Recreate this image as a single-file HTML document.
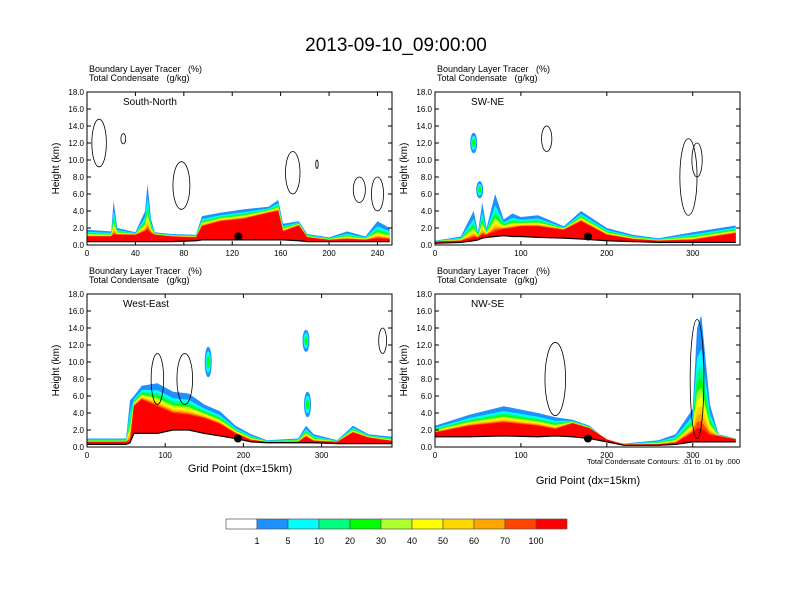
<!DOCTYPE html>
<html><head><meta charset="utf-8"><style>
body{margin:0;background:#fff;}
svg{display:block;font-family:"Liberation Sans",sans-serif;}
</style></head><body>
<svg id="c" width="792" height="612" viewBox="0 0 792 612">
<text x="396" y="51" font-size="19" text-anchor="middle">2013-09-10_09:00:00</text>
</svg>
<script>
const bandColors=["#1e90ff","#00ffff","#00ff7f","#00ff00","#adff2f","#ffff00","#ffd700","#ffa500","#ff4500","#ff0000"];
const bandLabels=["1","5","10","20","30","40","50","60","70","100"];
const tlX=[0,20,22,25,40,48,50,53,56,70,90,95,110,130,150,158,162,175,182,200,215,230,240,250];
const tlOuter=[1.8,1.6,5.2,2,1.5,4,7.2,3,1.5,1.3,1.2,3.4,3.8,4.2,4.5,5.3,2.5,2.8,1.3,0.9,1.6,1.0,2.8,2.0];
const tlRed=[1.0,1.0,1.2,1.2,1.2,1.6,1.8,1.4,1.2,1.0,0.9,2.2,2.8,3.1,3.8,4.0,1.6,2.3,0.9,0.6,0.7,0.6,0.8,0.7];
const tlGround=[0.4,0.4,0.4,0.4,0.4,0.4,0.4,0.4,0.4,0.4,0.5,0.6,0.6,0.6,0.6,0.6,0.6,0.5,0.4,0.4,0.4,0.4,0.4,0.4];
const trX=[0,30,45,50,55,60,70,80,90,100,120,150,170,200,230,260,300,350];
const trOuter=[0.5,1.0,4,1.5,5,2,6,3,3.7,3.3,3.5,2.2,4,2.0,1.2,0.8,1.5,2.3];
const trRed=[0.4,0.5,0.9,0.9,1.2,1.2,1.6,1.9,2.0,2.2,2.2,1.8,2.8,1.2,0.7,0.5,0.6,1.4];
const trGround=[0.2,0.3,0.5,0.6,0.8,0.9,1.0,1.1,1.0,1.0,0.9,0.8,0.7,0.5,0.4,0.3,0.3,0.3];
const blX=[0,50,55,60,70,90,110,130,150,170,190,210,230,270,280,290,320,340,360,390];
const blOuter=[1.0,1.0,5.5,6.0,7.2,7.5,6.5,6.3,5.0,4.2,2.5,1.5,0.8,1.0,2.5,1.5,0.8,2.5,1.5,1.2];
const blRed=[0.6,0.6,0.7,4.8,5.6,4.8,4.0,3.8,3.4,2.7,1.6,0.8,0.6,0.6,1.2,0.7,0.6,1.7,1.1,0.7];
const blGround=[0.3,0.3,0.5,1.6,1.6,1.6,2.0,2.0,1.6,1.3,1.0,0.6,0.5,0.5,0.5,0.5,0.4,0.4,0.4,0.4];
const brX=[0,40,80,120,140,160,180,200,220,260,280,300,305,310,320,330,350];
const brOuter=[2.5,3.8,4.8,4.0,3.5,3.2,2.5,0.8,0.4,0.8,1.5,4.5,14,15.5,5,1.5,1.0];
const brRed=[1.7,2.5,2.9,2.5,2.1,2.8,2.2,0.9,0.3,0.3,0.5,1.7,2.2,2.2,1.4,1.3,0.9];
const brGround=[1.2,1.2,1.3,1.2,1.3,1.2,1.0,0.6,0.2,0.2,0.3,0.6,0.6,0.6,0.6,0.6,0.6];
// isolated cloud-top tracer blobs: grid x, height, half-height (km)
const trBlobX=[45,52];const trBlobH=[12,6.5];const trBlobS=[1.2,1.0];
const blBlobX=[155,280,282];const blBlobH=[10,12.5,5];const blBlobS=[1.8,1.3,1.5];
// condensate contours: grid x, height, half-width (grid), half-height (km)
const tlCX=[10,30,78,170,225,240,190];const tlCH=[12,12.5,7,8.5,6.5,6,9.5];const tlCW=[6,2,7,6,5,5,1];const tlCS=[2.8,0.6,2.8,2.5,1.5,2,0.5];
const trCX=[130,295,305];const trCH=[12.5,8,10];const trCW=[6,10,6];const trCS=[1.5,4.5,2];
const blCX=[90,125,378];const blCH=[8,8,12.5];const blCW=[8,10,5];const blCS=[3,3,1.5];
const brCX=[140,305];const brCH=[8,8];const brCW=[12,8];const brCS=[4.3,7];
const panels=[
 {name:"south-north",label:"South-North",x0:87,y0:92,xMax:252,ticks:[0,40,80,120,160,200,240],X:tlX,O:tlOuter,R:tlRed,G:tlGround,dot:125,bx:[],bh:[],bs:[],cx:tlCX,ch:tlCH,cw:tlCW,cs:tlCS},
 {name:"sw-ne",label:"SW-NE",x0:435,y0:92,xMax:355,ticks:[0,100,200,300],X:trX,O:trOuter,R:trRed,G:trGround,dot:178,bx:trBlobX,bh:trBlobH,bs:trBlobS,cx:trCX,ch:trCH,cw:trCW,cs:trCS},
 {name:"west-east",label:"West-East",x0:87,y0:294,xMax:390,ticks:[0,100,200,300],X:blX,O:blOuter,R:blRed,G:blGround,dot:193,bx:blBlobX,bh:blBlobH,bs:blBlobS,cx:blCX,ch:blCH,cw:blCW,cs:blCS},
 {name:"nw-se",label:"NW-SE",x0:435,y0:294,xMax:355,ticks:[0,100,200,300],X:brX,O:brOuter,R:brRed,G:brGround,dot:178,bx:[],bh:[],bs:[],cx:brCX,ch:brCH,cw:brCW,cs:brCS}
];
const NS="http://www.w3.org/2000/svg";
const svg=document.getElementById("c");
function mk(t,a,p){const e=document.createElementNS(NS,t);for(const k in a)e.setAttribute(k,a[k]);(p||svg).appendChild(e);return e;}
const W=305,H=153;
panels.forEach(p=>{
 const g=mk("g",{});
 
 
 const sx=v=>p.x0+v/p.xMax*W, sy=v=>p.y0+H-v/18*H;
 const clip=mk("clipPath",{id:"cl"+p.name},g);mk("rect",{x:p.x0,y:p.y0,width:W,height:H},clip);
 const fg=mk("g",{"clip-path":"url(#cl"+p.name+")"},g);
 for(let k=0;k<10;k++){
  let pts=[];
  p.X.forEach((x,i)=>{const top=p.O[i]+(p.R[i]-p.O[i])*Math.pow(k/9,0.55);pts.push(sx(x)+","+sy(Math.max(top,p.G[i])));});
  for(let i=p.X.length-1;i>=0;i--)pts.push(sx(p.X[i])+","+sy(p.G[i]));
  const poly=mk("polygon",{points:pts.join(" "),fill:bandColors[k]},fg);
  
  
 }
 p.bx.forEach((bx,i)=>{
  [0,1,3].forEach((k,j)=>{
   const e=mk("ellipse",{cx:sx(bx),cy:sy(p.bh[i]),rx:3.5-j,ry:p.bs[i]/18*H*(1-j*0.3),fill:bandColors[k]},fg);
   
   
  });
 });
 p.cx.forEach((cx,i)=>{
  const e=mk("ellipse",{cx:sx(cx),cy:sy(p.ch[i]),rx:p.cw[i]/p.xMax*W,ry:p.cs[i]/18*H,fill:"none",stroke:"#000","stroke-width":0.8},fg);
  
  
 });
 const gp=p.X.map((x,i)=>sx(x)+","+sy(p.G[i])).join(" ");
 const gl=mk("polyline",{points:gp,fill:"none",stroke:"#000","stroke-width":1.2},fg);
 
 
 const d=mk("circle",{cx:sx(p.dot),cy:sy(1.0),r:4,fill:"#000"},g);
 
 
 mk("rect",{x:p.x0,y:p.y0,width:W,height:H,fill:"none",stroke:"#000","stroke-width":1},g);
 for(let h=0;h<=18;h+=2){
  const y=sy(h);
  mk("line",{x1:p.x0,x2:p.x0+4,y1:y,y2:y,stroke:"#000"},g);
  mk("line",{x1:p.x0+W,x2:p.x0+W-4,y1:y,y2:y,stroke:"#000"},g);
  const t=mk("text",{x:p.x0-3,y:y+3,"font-size":8,"text-anchor":"end"},g);t.textContent=h.toFixed(1);
  
  
 }
 p.ticks.forEach(v=>{
  const x=sx(v);
  mk("line",{x1:x,x2:x,y1:p.y0+H,y2:p.y0+H-4,stroke:"#000"},g);
  mk("line",{x1:x,x2:x,y1:p.y0,y2:p.y0+4,stroke:"#000"},g);
  const t=mk("text",{x:x,y:p.y0+H+11,"font-size":8,"text-anchor":"middle"},g);t.textContent=v;
  
  
 });
 const yl=mk("text",{x:p.x0-28,y:p.y0+H/2,"font-size":10,"text-anchor":"middle",transform:`rotate(-90 ${p.x0-28} ${p.y0+H/2})`},g);yl.textContent="Height (km)";
 
 
 const t1=mk("text",{x:p.x0+2,y:p.y0-20,"font-size":9},g);t1.textContent="Boundary Layer Tracer\u00a0\u00a0\u00a0(%)";
 
 
 const t2=mk("text",{x:p.x0+2,y:p.y0-11,"font-size":9},g);t2.textContent="Total Condensate\u00a0\u00a0\u00a0(g/kg)";
 
 
 const lb=mk("text",{x:p.x0+36,y:p.y0+13,"font-size":10},g);lb.textContent=p.label;
 
 
});
const xa1=mk("text",{x:240,y:472,"font-size":11,"text-anchor":"middle"});xa1.textContent="Grid Point (dx=15km)";


const xa2=mk("text",{x:588,y:484,"font-size":11,"text-anchor":"middle"});xa2.textContent="Grid Point (dx=15km)";


const cn=mk("text",{x:740,y:464,"font-size":7.5,"text-anchor":"end"});cn.textContent="Total Condensate Contours: .01 to .01 by .000";


const cb=["#ffffff"].concat(bandColors);
cb.forEach((c,i)=>{
 const r=mk("rect",{x:226+i*31,y:519,width:31,height:10,fill:c,stroke:"#555","stroke-width":0.7});
 
 
});
bandLabels.forEach((l,i)=>{
 const t=mk("text",{x:257+i*31,y:544,"font-size":9,"text-anchor":"middle"});t.textContent=l;
 
 
});
</script>
</body></html>
